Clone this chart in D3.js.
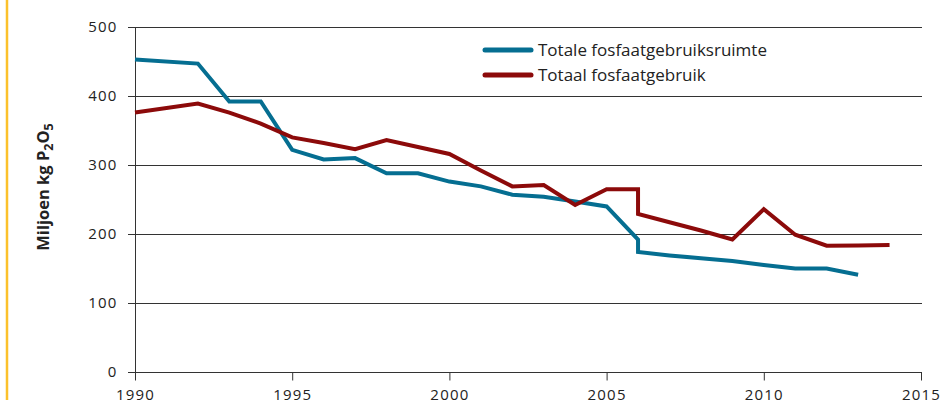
<!DOCTYPE html>
<html>
<head>
<meta charset="utf-8">
<script src="https://cdn.jsdelivr.net/npm/d3@7"></script>
<style>
  body { margin: 0; background: #fff; }
  svg text { font-family: "Open Sans", "Noto Sans", sans-serif; fill: #222; }
</style>
</head>
<body>
<script>
// jaren (2006 komt twee keer voor: sprong in de lijnen)
var years = [1990, 1992, 1993, 1994, 1995, 1996, 1997, 1998, 1999, 2000, 2001, 2002, 2003, 2004, 2005,
  2006, 2006, 2007, 2008, 2009, 2010, 2011, 2012, 2013, 2014];
var gebruiksruimte = [453, 447, 392, 392, 322, 308, 310, 288, 288, 276, 269, 257, 254, 247, 240,
  192, 174, 169, 165, 161, 155, 150, 150, 141, null];
var gebruik = [376, 389, 376, 360, 340, 332, 323, 336, 326, 316, 292, 269, 271, 242, 265,
  265, 229, 217, 205, 192, 236, 199, 183, 183.5, 184];
var seriesNames = ["Totale fosfaatgebruiksruimte", "Totaal fosfaatgebruik"];
var seriesColors = ["#056e91", "#8c0a0a"];
var xTicks = [1990, 1995, 2000, 2005, 2010, 2015];
var yTicks = [0, 100, 200, 300, 400, 500];

var width = 940, height = 400;

var svg = d3.select("body").append("svg")
  .attr("width", width)
  .attr("height", height);

// gele balk links
svg.append("line")
  .attr("x1", 7).attr("x2", 7)
  .attr("y1", 0).attr("y2", height)
  .attr("stroke", "#fcc12b")
  .attr("stroke-width", 2.5);

var x = d3.scaleLinear().domain([1990, 2015]).range([135, 921]);
var y = d3.scaleLinear().domain([0, 500]).range([372, 27]);

// gridlijnen
svg.append("g")
  .selectAll("line")
  .data(yTicks.filter(function (d) { return d > 0; }))
  .enter().append("line")
  .attr("x1", 128).attr("x2", 922)
  .attr("y1", function (d) { return y(d) + 0.5; })
  .attr("y2", function (d) { return y(d) + 0.5; })
  .attr("stroke", "#333")
  .attr("stroke-width", 1);

// y-as
var yAxis = svg.append("g")
  .attr("transform", "translate(135.5,0)")
  .call(d3.axisLeft(y).tickValues(yTicks).tickSize(7).tickPadding(11));
yAxis.select(".domain").attr("stroke", "#333").attr("d", "M0," + (y(500) + 0.5) + "V" + (y(0) + 0.5));
yAxis.selectAll(".tick line").attr("stroke", "#333");
yAxis.selectAll(".tick text").attr("font-size", 15).attr("letter-spacing", 1.2).attr("fill", "#222");

// x-as
var xAxis = svg.append("g")
  .attr("transform", "translate(0," + (y(0) + 0.5) + ")")
  .call(d3.axisBottom(x).tickValues(xTicks).tickFormat(d3.format("d")).tickSize(8).tickPadding(9));
xAxis.select(".domain").attr("stroke", "#333").attr("d", "M128,0H922");
xAxis.selectAll(".tick line").attr("stroke", "#333");
xAxis.selectAll(".tick text").attr("font-size", 15).attr("letter-spacing", 1.2).attr("fill", "#222");

// lijnen
var line = d3.line()
  .defined(function (d) { return d[1] != null; })
  .x(function (d) { return x(d[0]); })
  .y(function (d) { return y(d[1]); });

[gebruiksruimte, gebruik].forEach(function (vals, i) {
  var pts = years.map(function (yr, j) { return [yr, vals[j]]; });
  svg.append("path")
    .attr("d", line(pts))
    .attr("fill", "none")
    .attr("stroke", seriesColors[i])
    .attr("stroke-width", 4)
    .attr("stroke-linejoin", "miter");
});

// legenda
var legend = svg.selectAll(".legend")
  .data(seriesNames)
  .enter().append("g")
  .attr("class", "legend")
  .attr("transform", function (d, i) { return "translate(483," + (50 + i * 25) + ")"; });
legend.append("line")
  .attr("x1", 2).attr("x2", 48)
  .attr("stroke", function (d, i) { return seriesColors[i]; })
  .attr("stroke-width", 5)
  .attr("stroke-linecap", "round");
legend.append("text")
  .attr("x", 55)
  .attr("y", 6)
  .attr("font-size", 17)
  .text(function (d) { return d; });

// y-as titel
var title = svg.append("text")
  .attr("transform", "translate(49,187) rotate(-90)")
  .attr("text-anchor", "middle")
  .attr("font-size", 16.5)
  .attr("font-weight", "bold");
title.append("tspan").text("Miljoen kg P");
title.append("tspan").attr("font-size", 12.5).attr("dy", 4).text("2");
title.append("tspan").attr("dy", -4).text("O");
title.append("tspan").attr("font-size", 12.5).attr("dy", 4).text("5");
</script>
</body>
</html>
